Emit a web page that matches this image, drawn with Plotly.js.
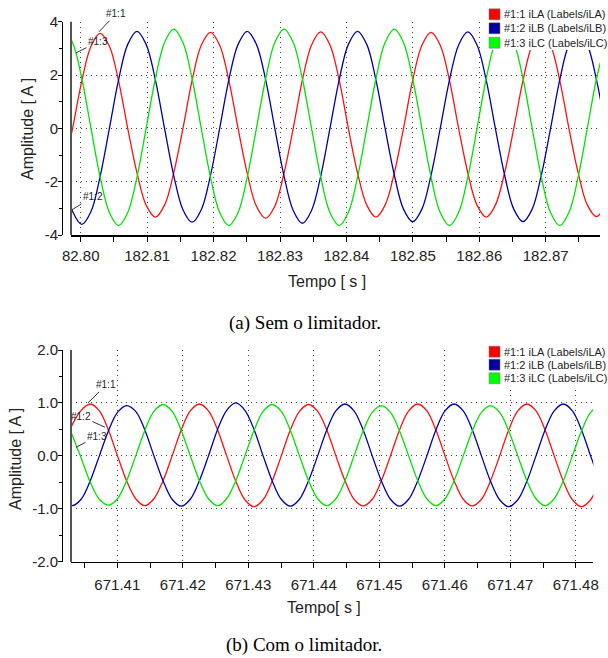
<!DOCTYPE html>
<html>
<head>
<meta charset="utf-8">
<script src="https://cdn.plot.ly/plotly-3.0.1.min.js"></script>
<style>
  html, body { margin: 0; padding: 0; background: #fff; }
  #chart { width: 608px; height: 658px; }
</style>
</head>
<body>
<div id="chart"></div>
<script>
// ---- (a) Sem o limitador: phase currents, sample instants in seconds ----
const timeA = [182.79740,182.79878,182.80017,182.80155,182.80293,182.80432,182.80570,182.80708,182.80847,182.80985,
  182.81124,182.81262,182.81400,182.81539,182.81677,182.81815,182.81954,182.82092,182.82230,182.82369,
  182.82507,182.82645,182.82784,182.82922,182.83060,182.83199,182.83337,182.83475,182.83614,182.83752,
  182.83891,182.84029,182.84167,182.84306,182.84444,182.84582,182.84721,182.84859,182.84997,182.85136,
  182.85274,182.85412,182.85551,182.85689,182.85827,182.85966,182.86104,182.86242,182.86381,182.86519,
  182.86658,182.86796,182.86934,182.87073,182.87211,182.87349,182.87488,182.87626,182.87764,182.87903];

const iLA_a = [-1.66, 0.00, 1.78, 3.08, 3.56, 3.08, 1.78, 0.00, -1.67, -2.88,
  -3.33, -2.88, -1.67, 0.00, 1.80, 3.12, 3.60, 3.12, 1.80, 0.00,
  -1.69, -2.92, -3.37, -2.92, -1.69, 0.00, 1.81, 3.13, 3.62, 3.13,
  1.81, 0.00, -1.67, -2.88, -3.33, -2.88, -1.67, 0.00, 1.80, 3.12,
  3.60, 3.12, 1.80, 0.00, -1.67, -2.88, -3.33, -2.88, -1.67, 0.00,
  1.80, 3.12, 3.60, 3.12, 1.80, 0.00, -1.66, -2.87, -3.31, -2.87];

const iLB_a = [-1.80, -3.12, -3.60, -3.12, -1.80, 0.00, 1.82, 3.15, 3.64, 3.15,
  1.82, 0.00, -1.76, -3.05, -3.52, -3.05, -1.76, 0.00, 1.82, 3.15,
  3.64, 3.15, 1.82, 0.00, -1.78, -3.08, -3.56, -3.08, -1.78, 0.00,
  1.82, 3.15, 3.64, 3.15, 1.82, 0.00, -1.75, -3.03, -3.50, -3.03,
  -1.75, 0.00, 1.81, 3.13, 3.62, 3.13, 1.81, 0.00, -1.75, -3.03,
  -3.50, -3.03, -1.75, 0.00, 1.82, 3.14, 3.63, 3.14, 1.82, 0.00];

const iLC_a = [3.72, 3.22, 1.86, 0.00, -1.83, -3.16, -3.65, -3.16, -1.83, 0.00,
  1.86, 3.22, 3.72, 3.22, 1.86, 0.00, -1.83, -3.16, -3.65, -3.16,
  -1.83, 0.00, 1.86, 3.22, 3.72, 3.22, 1.86, 0.00, -1.83, -3.16,
  -3.65, -3.16, -1.83, 0.00, 1.86, 3.22, 3.72, 3.22, 1.86, 0.00,
  -1.83, -3.16, -3.65, -3.16, -1.83, 0.00, 1.86, 3.22, 3.72, 3.22,
  1.86, 0.00, -1.83, -3.16, -3.65, -3.16, -1.83, 0.00, 1.86, 3.22];

// ---- (b) Com o limitador ----
const timeB = [671.40170,671.40309,671.40448,671.40587,671.40726,671.40864,671.41003,671.41142,671.41281,671.41420,
  671.41559,671.41698,671.41837,671.41976,671.42114,671.42253,671.42392,671.42531,671.42670,671.42809,
  671.42948,671.43087,671.43226,671.43364,671.43503,671.43642,671.43781,671.43920,671.44059,671.44198,
  671.44337,671.44476,671.44614,671.44753,671.44892,671.45031,671.45170,671.45309,671.45448,671.45587,
  671.45726,671.45864,671.46003,671.46142,671.46281,671.46420,671.46559,671.46698,671.46837,671.46976,
  671.47114,671.47253,671.47392,671.47531,671.47670,671.47809,671.47948,671.48087,671.48226,671.48364];

const iLA_b = [0.12, 0.58, 0.86, 0.98, 0.85, 0.49, 0.00, -0.47, -0.81, -0.94,
  -0.81, -0.47, 0.00, 0.49, 0.85, 0.98, 0.85, 0.49, 0.00, -0.48,
  -0.83, -0.96, -0.83, -0.48, 0.00, 0.49, 0.84, 0.97, 0.84, 0.49,
  0.00, -0.47, -0.82, -0.945, -0.82, -0.47, 0.00, 0.49, 0.85, 0.98,
  0.85, 0.49, 0.00, -0.47, -0.82, -0.945, -0.82, -0.47, 0.00, 0.49,
  0.85, 0.98, 0.85, 0.49, 0.00, -0.48, -0.83, -0.96, -0.83, -0.48];

const iLB_b = [-0.82, -0.94, -0.82, -0.47, 0.00, 0.47, 0.82, 0.95, 0.84, 0.49,
  0.00, -0.47, -0.82, -0.95, -0.82, -0.47, 0.00, 0.50, 0.86, 1.00,
  0.86, 0.50, 0.00, -0.47, -0.82, -0.95, -0.82, -0.47, 0.00, 0.49,
  0.85, 0.98, 0.85, 0.49, 0.00, -0.47, -0.82, -0.95, -0.82, -0.47,
  0.00, 0.49, 0.85, 0.98, 0.85, 0.49, 0.00, -0.48, -0.83, -0.96,
  -0.83, -0.48, 0.00, 0.49, 0.85, 0.98, 0.85, 0.49, 0.00, -0.48];

const iLC_b = [0.80, 0.40, -0.04, -0.50, -0.82, -0.93, -0.81, -0.47, 0.00, 0.48,
  0.84, 0.97, 0.84, 0.48, 0.00, -0.47, -0.81, -0.94, -0.81, -0.47,
  0.00, 0.48, 0.84, 0.97, 0.84, 0.48, 0.00, -0.47, -0.81, -0.94,
  -0.81, -0.47, 0.00, 0.47, 0.82, 0.95, 0.82, 0.47, 0.00, -0.47,
  -0.81, -0.94, -0.81, -0.47, 0.00, 0.47, 0.82, 0.95, 0.82, 0.47,
  0.00, -0.47, -0.81, -0.94, -0.81, -0.47, 0.00, 0.47, 0.82, 0.95];

// ---- labels, ticks ----
const seriesNames = ['#1:1 iLA (Labels/iLA)', '#1:2 iLB (Labels/iLB)', '#1:3 iLC (Labels/iLC)'];
const lineColors = ['#ff1010', '#0000a8', '#00e400'];
const swatchColors = ['#ff0000', '#00009c', '#00ff00'];
const probeLabels = ['#1:1', '#1:2', '#1:3'];

const xTickValsA = [182.80, 182.81, 182.82, 182.83, 182.84, 182.85, 182.86, 182.87];
const xTickTextA = ['82.80', '182.81', '182.82', '182.83', '182.84', '182.85', '182.86', '182.87'];
const xTickValsB = [671.41, 671.42, 671.43, 671.44, 671.45, 671.46, 671.47, 671.48];
const xTickTextB = ['671.41', '671.42', '671.43', '671.44', '671.45', '671.46', '671.47', '671.48'];
const yTickValsA = [-4, -2, 0, 2, 4];
const yTickTextA = ['-4', '-2', '0', '2', '4'];
const yTickValsB = [-2, -1, 0, 1, 2];
const yTickTextB = ['-2.0', '-1.0', '0.0', '1.0', '2.0'];

const captions = ['(a) Sem o limitador.', '(b) Com o limitador.'];
const xTitles = ['Tempo [ s ]', 'Tempo[ s ]'];
const yTitle = 'Amplitude [ A ]';

// probe marker anchors [time, current] and label offsets in px
const probesA = [[182.80275, 3.62, 17, -18], [182.79865, -3.06, 21, -13], [182.79929, 2.83, 22, -11]];
const probesB = [[671.40553, 1.00, 18, -18], [671.40812, 0.54, -24, -11], [671.40369, 0.16, 21, -11]];

// ---- page geometry helpers (pixels -> paper fraction) ----
const W = 608, H = 658;
const px = v => v / W;
const py = v => 1 - v / H;

const SANS = 'Liberation Sans, Arial, sans-serif';
const SERIF = 'Liberation Serif, Times New Roman, serif';
const tickFont = { family: SANS, size: 15, color: '#222' };

function traces(t, ys, xa, ya) {
  return ys.map((y, i) => ({
    type: 'scatter', mode: 'lines', x: t, y: y, xaxis: xa, yaxis: ya,
    name: seriesNames[i], showlegend: false, hoverinfo: 'skip',
    line: { color: lineColors[i], width: 1.3, shape: 'spline', smoothing: 1 }
  }));
}

const data = [
  ...traces(timeA, [iLA_a, iLB_a, iLC_a], 'x', 'y'),
  ...traces(timeB, [iLA_b, iLB_b, iLC_b], 'x2', 'y2')
];

const gridStyle = { showgrid: true, gridcolor: '#444', griddash: '1px,4px', gridwidth: 1, zeroline: false };

function xAxis(domain, range, anchor, vals, text, tick0, standoff) {
  return Object.assign({
    domain: domain, range: range, anchor: anchor,
    tickmode: 'array', tickvals: vals, ticktext: text,
    ticks: 'outside', ticklen: 5, tickwidth: 1, tickcolor: '#000',
    showline: true, linecolor: '#000', linewidth: 1.5,
    tickfont: tickFont, ticklabelstandoff: standoff,
    minor: { tickmode: 'linear', tick0: tick0, dtick: 0.005, ticks: 'outside', ticklen: 5, tickcolor: '#000', showgrid: false }
  }, gridStyle);
}

function yAxis(domain, range, vals, text, minorStep) {
  return Object.assign({
    domain: domain, range: range, anchor: 'free', position: px(62),
    tickmode: 'array', tickvals: vals, ticktext: text,
    ticks: 'outside', ticklen: 4, tickwidth: 1, tickcolor: '#000',
    showline: true, linecolor: '#000', linewidth: 1,
    tickfont: tickFont, ticklabelstandoff: -3,
    minor: { tickmode: 'linear', tick0: 0, dtick: minorStep, ticks: 'outside', ticklen: 3, tickcolor: '#000', showgrid: false }
  }, gridStyle);
}

const shapes = [];
const annotations = [];

// left frame of each plot
[[21.7, 235], [350, 562]].forEach(([top, bot]) => {
  shapes.push({ type: 'line', xref: 'paper', yref: 'paper', x0: px(71), x1: px(71), y0: py(bot), y1: py(top),
    line: { color: '#555', width: 2 }, layer: 'above' });
});

// legend blocks
function legendBlock(boxTop, boxBot, rows) {
  shapes.push({ type: 'rect', xref: 'paper', yref: 'paper', x0: px(485), x1: px(608), y0: py(boxBot), y1: py(boxTop),
    fillcolor: '#fff', line: { width: 0 }, layer: 'above' });
  rows.forEach((r, i) => {
    shapes.push({ type: 'rect', xref: 'paper', yref: 'paper', x0: px(489), x1: px(500), y0: py(r + 5.5), y1: py(r - 5.5),
      fillcolor: swatchColors[i], line: { color: '#777', width: 0.5 }, layer: 'above' });
    annotations.push({ xref: 'paper', yref: 'paper', x: px(502), y: py(r), xanchor: 'left', yanchor: 'middle',
      text: seriesNames[i], showarrow: false, font: { family: SANS, size: 11, color: '#222' } });
  });
}
legendBlock(4, 50, [14.3, 28.3, 42.7]);
legendBlock(343, 386, [351.7, 364.7, 378.3]);

// probe labels with leader lines
function probes(list, xa, ya) {
  list.forEach((p, i) => {
    annotations.push({ xref: xa, yref: ya, x: p[0], y: p[1], ax: p[2], ay: p[3], text: probeLabels[i],
      showarrow: true, arrowhead: 0, arrowwidth: 1, arrowcolor: '#333', standoff: 0,
      font: { family: SANS, size: 10, color: '#222' } });
  });
}
probes(probesA, 'x', 'y');
probes(probesB, 'x2', 'y2');

// axis titles and captions
const titleFont = { family: SANS, size: 16, color: '#222' };
annotations.push({ xref: 'paper', yref: 'paper', x: px(327), y: py(281), xanchor: 'center', yanchor: 'middle', text: xTitles[0], showarrow: false, font: titleFont });
annotations.push({ xref: 'paper', yref: 'paper', x: px(324), y: py(607), xanchor: 'center', yanchor: 'middle', text: xTitles[1], showarrow: false, font: titleFont });
annotations.push({ xref: 'paper', yref: 'paper', x: px(27), y: py(129), xanchor: 'center', yanchor: 'middle', text: yTitle, textangle: -90, showarrow: false, font: titleFont });
annotations.push({ xref: 'paper', yref: 'paper', x: px(15), y: py(459), xanchor: 'center', yanchor: 'middle', text: yTitle, textangle: -90, showarrow: false, font: titleFont });
const capFont = { family: SERIF, size: 19, color: '#000' };
annotations.push({ xref: 'paper', yref: 'paper', x: px(305), y: py(323), xanchor: 'center', yanchor: 'middle', text: captions[0], showarrow: false, font: capFont });
annotations.push({ xref: 'paper', yref: 'paper', x: px(304), y: py(645), xanchor: 'center', yanchor: 'middle', text: captions[1], showarrow: false, font: capFont });

const layout = {
  width: W, height: H,
  margin: { l: 0, r: 0, t: 0, b: 0 },
  paper_bgcolor: '#fff', plot_bgcolor: '#fff',
  showlegend: false,
  font: { family: SANS, color: '#222' },
  xaxis: xAxis([px(71), px(600)], [182.79854, 182.87817], 'y', xTickValsA, xTickTextA, 182.80, 1),
  yaxis: yAxis([py(235), py(21.7)], [-4, 4], yTickValsA, yTickTextA, 1),
  xaxis2: xAxis([px(71), px(593.3)], [671.40293, 671.48267], 'y2', xTickValsB, xTickTextB, 671.41, 4),
  yaxis2: yAxis([py(561.7), py(350)], [-2, 2], yTickValsB, yTickTextB, 0.5),
  shapes: shapes,
  annotations: annotations
};

Plotly.newPlot('chart', data, layout, { staticPlot: true, displayModeBar: false });
</script>
</body>
</html>
